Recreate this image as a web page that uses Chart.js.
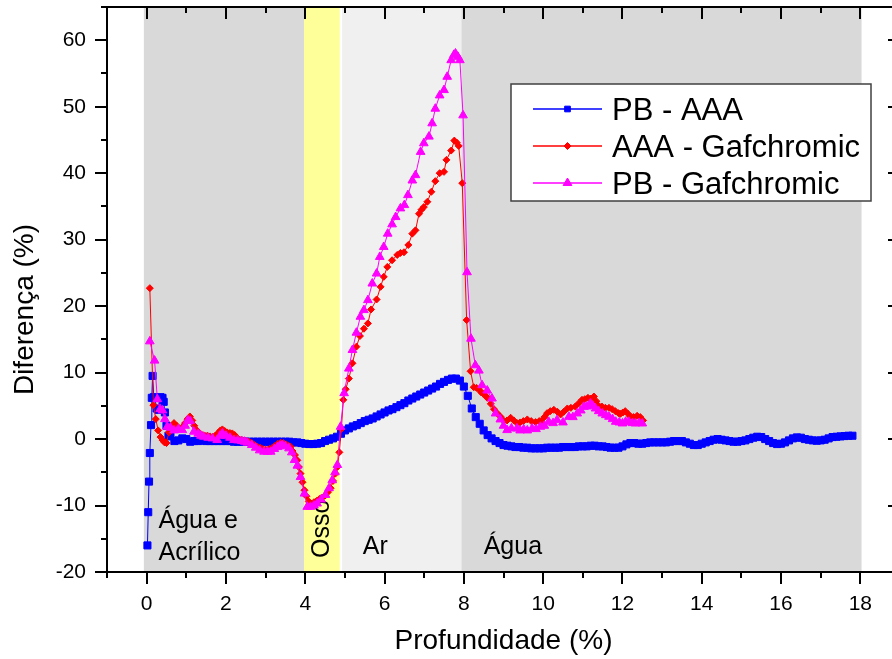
<!DOCTYPE html>
<html><head><meta charset="utf-8">
<script src="https://cdn.jsdelivr.net/npm/chart.js@4/dist/chart.umd.min.js"></script>
<style>html,body{margin:0;padding:0;overflow:hidden;background:#fff}canvas{display:block}</style>
</head><body>
<canvas id="c" width="910" height="659"></canvas>
<script>
// ---------- DATA ----------
const seriesLabels = ['PB - AAA', 'AAA - Gafchromic', 'PB - Gafchromic'];
const xTickLabels = [0, 2, 4, 6, 8, 10, 12, 14, 16, 18];
const yTickLabels = [-20, -10, 0, 10, 20, 30, 40, 50, 60];
const xAxisTitle = 'Profundidade (%)';
const yAxisTitle = 'Diferença (%)';

// material regions (depth)
const regionStart = [-0.07, 3.97, 4.93, 7.94];
const regionEnd   = [3.97, 4.87, 7.94, 18.03];
const regionNames = ['Água e', 'Acrílico', 'Osso', 'Ar', 'Água'];

const pbAaaX = [
0.02,0.04,0.06,0.08,0.11,0.13,0.15,0.18,0.21,0.25,0.3,0.35,0.4,0.43,0.46,0.5,0.55,
0.6,0.7,0.8,0.9,1.0,1.1,1.2,1.3,1.4,1.5,1.6,1.7,1.8,1.9,2.0,2.1,2.2,2.3,2.4,2.5,2.6,2.7,2.8,2.9,
3.0,3.1,3.2,3.3,3.4,3.5,3.6,3.7,3.8,3.9,4.0,4.1,4.2,4.3,4.4,4.5,4.6,4.7,4.8,4.9,
5.0,5.1,5.2,5.3,5.4,5.5,5.6,5.7,5.8,5.9,6.0,6.1,6.2,6.3,6.4,6.5,6.6,6.7,6.8,6.9,
7.0,7.1,7.2,7.3,7.4,7.5,7.6,7.7,7.8,7.9,8.0,8.1,8.2,8.3,8.4,8.5,8.6,8.7,8.8,8.9,
9.0,9.1,9.2,9.3,9.4,9.5,9.6,9.7,9.8,9.9,
10.0,10.1,10.2,10.3,10.4,10.5,10.6,10.7,10.8,10.9,
11.0,11.1,11.2,11.3,11.4,11.5,11.6,11.7,11.8,11.9,
12.0,12.1,12.2,12.3,12.4,12.5,12.6,12.7,12.8,12.9,
13.0,13.1,13.2,13.3,13.4,13.5,13.6,13.7,13.8,13.9,
14.0,14.1,14.2,14.3,14.4,14.5,14.6,14.7,14.8,14.9,
15.0,15.1,15.2,15.3,15.4,15.5,15.6,15.7,15.8,15.9,
16.0,16.1,16.2,16.3,16.4,16.5,16.6,16.7,16.8,16.9,
17.0,17.1,17.2,17.3,17.4,17.5,17.6,17.7,17.8];
const pbAaaY = [
-16,-11,-6.4,-2.1,2.1,6.2,9.5,6.3,6.2,4.6,4.4,6.3,6.2,5.6,4.0,2.0,0.5,
0.4,-0.3,-0.2,0.1,0.0,-0.4,-0.3,-0.3,-0.2,-0.3,-0.3,-0.3,-0.3,-0.3,-0.3,-0.3,-0.4,-0.4,-0.4,-0.4,-0.4,-0.4,-0.4,-0.4,
-0.4,-0.4,-0.4,-0.4,-0.4,-0.4,-0.4,-0.5,-0.5,-0.6,-0.7,-0.75,-0.75,-0.7,-0.6,-0.3,-0.1,0.1,0.35,0.8,
1.3,1.6,1.9,2.1,2.4,2.7,2.9,3.1,3.4,3.7,4.0,4.3,4.5,4.8,5.1,5.4,5.8,6.1,6.4,6.7,
7.0,7.3,7.6,7.9,8.3,8.6,8.9,9.1,9.1,8.8,7.9,6.5,4.6,3.3,2.3,1.3,0.6,0.1,-0.3,-0.6,
-0.9,-1.0,-1.1,-1.2,-1.2,-1.3,-1.3,-1.4,-1.4,-1.4,
-1.4,-1.3,-1.3,-1.3,-1.3,-1.2,-1.2,-1.2,-1.2,-1.1,
-1.1,-1.1,-1.0,-1.0,-1.1,-1.1,-1.2,-1.3,-1.3,-1.3,
-1.1,-0.8,-0.6,-0.6,-0.7,-0.7,-0.6,-0.5,-0.5,-0.5,
-0.5,-0.5,-0.4,-0.3,-0.3,-0.3,-0.5,-0.7,-0.9,-0.9,
-0.7,-0.5,-0.3,-0.1,0.0,-0.1,-0.2,-0.3,-0.4,-0.4,
-0.3,-0.2,0.0,0.2,0.35,0.3,0.0,-0.3,-0.6,-0.75,
-0.7,-0.5,-0.2,0.1,0.25,0.2,0.0,-0.1,-0.2,-0.25,
-0.2,-0.1,0.1,0.3,0.35,0.4,0.45,0.5,0.5];

const aaaGafX = [
0.08,0.17,0.23,0.29,0.35,0.4,0.45,0.5,0.56,0.62,
0.69,0.76,0.83,0.9,0.97,1.03,1.09,1.15,1.2,1.27,
1.33,1.4,1.47,1.53,1.6,1.67,1.73,1.8,1.86,1.91,
1.97,2.03,2.1,2.16,2.22,2.28,2.35,2.42,2.5,2.58,
2.65,2.72,2.79,2.86,2.93,3.0,3.04,3.1,3.17,3.24,
3.31,3.38,3.45,3.52,3.58,3.63,3.68,3.74,3.8,3.84,
3.88,3.93,3.98,4.03,4.09,4.15,4.22,4.29,4.36,4.43,
4.5,4.57,4.64,4.7,4.76,4.81,4.86,4.91,4.96,5.02,
5.1,5.19,5.29,5.38,5.48,5.58,5.66,5.8,5.9,5.98,
6.07,6.19,6.32,6.4,6.49,6.6,6.7,6.78,6.87,6.93,
6.99,7.08,7.18,7.28,7.39,7.5,7.56,7.68,7.76,7.82,
7.87,7.96,8.07,8.17,8.25,8.32,8.38,8.44,8.49,8.55,
8.59,8.68,8.76,8.84,8.92,9.0,9.09,9.18,9.26,9.34,
9.42,9.5,9.6,9.7,9.81,9.9,9.96,10.03,10.1,10.18,
10.27,10.36,10.44,10.52,10.61,10.7,10.81,10.9,10.98,11.05,
11.13,11.2,11.28,11.34,11.4,11.48,11.57,11.66,11.74,11.82,
11.9,11.95,12.01,12.07,12.14,12.2,12.28,12.37,12.45,12.52];
const aaaGafY = [
22.7,5.1,3.0,1.3,0.3,-0.15,-0.5,-0.6,1.0,1.8,
2.4,2.0,1.6,1.8,2.4,3.0,3.4,2.8,2.0,1.3,
0.8,0.6,0.5,0.5,0.4,0.35,0.5,0.9,1.3,1.45,
1.2,1.0,0.9,0.85,0.6,0.2,-0.1,-0.2,-0.3,-0.4,
-0.6,-0.9,-1.15,-1.3,-1.5,-1.6,-1.65,-1.5,-1.3,-1.0,
-0.7,-0.55,-0.6,-0.8,-1.0,-1.15,-1.8,-2.4,-3.2,-4.2,
-5.2,-6.5,-7.7,-8.6,-9.4,-9.7,-9.5,-9.3,-9.0,-8.8,
-8.5,-8.0,-7.4,-6.3,-5.2,-4.2,-2.0,1.5,5.9,7.5,
9.1,11.4,13.9,15.5,16.6,17.4,19.5,21.0,22.9,24.4,
25.9,26.9,27.7,28.0,28.1,29.2,30.9,31.4,33.9,34.5,
34.9,35.7,37.2,38.8,40.0,40.2,42.0,43.4,44.9,44.6,
44.1,38.5,17.9,10.2,7.8,7.7,7.5,7.0,6.8,6.5,
6.2,5.3,4.5,3.9,3.4,2.8,2.8,3.2,2.8,2.4,
2.5,2.7,2.95,2.7,2.55,2.7,2.7,3.3,3.9,4.2,
4.4,4.1,3.7,4.1,4.6,4.7,4.9,5.4,5.9,6.0,
6.2,6.1,6.4,5.7,5.0,4.9,4.7,4.7,4.5,4.2,
3.9,3.8,4.0,4.2,3.8,3.4,3.3,3.5,3.3,2.8];

const pbGafX = [
0.08,0.2,0.27,0.34,0.4,0.46,0.52,0.6,0.69,0.8,
0.9,0.97,1.04,1.1,1.19,1.3,1.37,1.44,1.55,1.66,
1.78,1.85,1.91,2.0,2.1,2.2,2.3,2.4,2.47,2.54,
2.65,2.75,2.85,2.96,3.05,3.13,3.22,3.3,3.36,3.42,
3.5,3.59,3.66,3.73,3.8,3.88,3.98,4.05,4.13,4.22,
4.3,4.4,4.51,4.6,4.68,4.75,4.81,4.89,4.98,5.1,
5.19,5.29,5.39,5.48,5.58,5.69,5.8,5.88,5.98,6.08,
6.19,6.28,6.4,6.5,6.59,6.7,6.78,6.91,6.99,7.12,
7.2,7.28,7.39,7.5,7.58,7.68,7.75,7.79,7.85,7.9,
7.98,8.08,8.18,8.29,8.38,8.46,8.59,8.71,8.8,8.92,
9.0,9.09,9.2,9.34,9.42,9.51,9.6,9.72,9.82,9.93,
10.03,10.14,10.25,10.35,10.5,10.65,10.75,10.86,10.95,11.03,
11.1,11.19,11.25,11.32,11.4,11.49,11.58,11.66,11.75,11.83,
11.92,12.0,12.08,12.16,12.25,12.33,12.42,12.5];
const pbGafY = [
14.7,11.8,6.0,4.5,4.3,3.0,1.85,1.7,1.3,1.5,
1.35,2.0,2.85,2.7,1.1,0.8,0.5,0.35,0.2,0.1,
-0.15,0.5,0.85,0.5,0.2,-0.15,-0.2,-0.3,-0.4,-0.55,
-0.9,-1.3,-1.7,-1.9,-1.9,-1.9,-1.5,-1.2,-1.0,-0.9,
-1.1,-1.4,-2.0,-3.15,-4.0,-5.7,-8.2,-10.2,-10.2,-10.0,
-9.7,-9.1,-8.4,-7.4,-6.2,-5.0,-3.9,1.85,6.9,10.6,
13.4,16.0,18.4,19.4,20.9,23.4,24.9,27.4,28.9,30.9,
32.3,33.4,34.7,35.2,36.7,38.9,39.7,43.2,44.5,45.5,
47.5,49.7,51.7,52.5,54.5,57.0,57.8,58.0,57.5,57.0,
48.7,25.1,15.1,11.1,10.3,8.1,7.3,6.1,3.85,2.95,
2.0,1.35,1.6,1.6,1.3,1.45,1.3,1.6,1.5,1.85,
2.0,2.6,2.4,2.85,2.5,3.35,3.3,3.85,4.3,4.85,
4.9,5.35,5.0,4.6,4.2,3.85,3.6,3.35,3.0,2.6,
2.5,2.35,2.6,2.6,2.4,2.35,2.4,2.35];

// ---------- CHART ----------
const FONT = "'Liberation Sans', Arial, Helvetica, sans-serif";
const toPts = (xs, ys) => xs.map((x, i) => ({x: x, y: ys[i]}));
const seriesColors = ['#0000ff', '#ff0000', '#ff00ff'];
const seriesStyles = ['rect', 'rectRot', 'triangle'];

function drawMarker(ctx, style, x, y, r) {
  ctx.beginPath();
  if (style === 'rect') {
    const s = r * Math.SQRT1_2;
    ctx.rect(x - s, y - s, 2 * s, 2 * s);
  } else if (style === 'rectRot') {
    ctx.moveTo(x - r, y); ctx.lineTo(x, y - r); ctx.lineTo(x + r, y); ctx.lineTo(x, y + r); ctx.closePath();
  } else {
    const h = r * Math.sqrt(3) / 2;
    ctx.moveTo(x, y - r); ctx.lineTo(x + h, y + r / 2); ctx.lineTo(x - h, y + r / 2); ctx.closePath();
  }
  ctx.fill(); ctx.stroke();
}

const bandsPlugin = {
  id: 'bands',
  beforeDatasetsDraw(chart) {
    const {ctx, chartArea: a, scales: {x, y}} = chart;
    const cols = ['#d9d9d9', '#ffff99', '#f0f0f0', '#d9d9d9'];
    ctx.save();
    regionStart.forEach((s, i) => {
      const x0 = x.getPixelForValue(s), x1 = x.getPixelForValue(regionEnd[i]);
      ctx.fillStyle = cols[i];
      ctx.fillRect(x0, a.top, x1 - x0, a.bottom - a.top);
    });
    ctx.fillStyle = '#000';
    ctx.font = '25px ' + FONT;
    ctx.textAlign = 'left';
    ctx.textBaseline = 'alphabetic';
    ctx.fillText(regionNames[0], x.getPixelForValue(0.30), y.getPixelForValue(-13.4));
    ctx.fillText(regionNames[1], x.getPixelForValue(0.30), y.getPixelForValue(-18.2));
    ctx.fillText(regionNames[3], x.getPixelForValue(5.45), y.getPixelForValue(-17.3));
    ctx.fillText(regionNames[4], x.getPixelForValue(8.5), y.getPixelForValue(-17.3));
    ctx.save();
    ctx.translate(x.getPixelForValue(4.59), y.getPixelForValue(-17.9));
    ctx.rotate(-Math.PI / 2);
    ctx.fillText(regionNames[2], 0, 0);
    ctx.restore();
    ctx.restore();
  }
};

const framePlugin = {
  id: 'frame',
  afterLayout(chart) {
    const s = chart.scales.y;
    if (!s._shifted) {
      const orig = s.drawTitle.bind(s);
      s.drawTitle = function () { const c = this.ctx; c.save(); c.translate(0, 20); orig(); c.restore(); };
      s._shifted = true;
    }
  },
  afterDraw(chart) {
    const {ctx, chartArea: a, scales: {x, y}} = chart;
    ctx.save();
    ctx.strokeStyle = '#000';
    ctx.lineWidth = 2;
    const line = (x0, y0, x1, y1) => { ctx.beginPath(); ctx.moveTo(x0, y0); ctx.lineTo(x1, y1); ctx.stroke(); };
    x.ticks.forEach(t => {
      const px = Math.round(x.getPixelForValue(t.value));
      const L = (t.value % 2 === 0) ? 12 : 6;
      line(px, a.bottom, px, a.bottom + L);
      line(px, a.top, px, a.top + L);
    });
    y.ticks.forEach(t => {
      const py = Math.round(y.getPixelForValue(t.value));
      const L = (t.value % 10 === 0) ? 12 : 6;
      line(a.left - L, py, a.left, py);
      line(a.right - L, py, a.right, py);
    });
    ctx.strokeRect(a.left, a.top, a.right - a.left, a.bottom - a.top);

    // legend
    const lx = 511, ly = 84, lw = 360, lh = 117;
    ctx.fillStyle = '#fff';
    ctx.fillRect(lx, ly, lw, lh);
    ctx.strokeStyle = '#404040';
    ctx.lineWidth = 1.5;
    ctx.strokeRect(lx, ly, lw, lh);
    const radii = [4, 3.5, 5];
    seriesLabels.forEach((lab, i) => {
      const cy = 109 + 37 * i;
      ctx.strokeStyle = seriesColors[i];
      ctx.fillStyle = seriesColors[i];
      ctx.lineWidth = 1.5;
      line(533, cy, 602, cy);
      ctx.lineWidth = 1;
      drawMarker(ctx, seriesStyles[i], 567.5, cy, radii[i]);
      ctx.fillStyle = '#000';
      ctx.font = '31px ' + FONT;
      ctx.textAlign = 'left';
      ctx.textBaseline = 'alphabetic';
      ctx.fillText(lab, 612, cy + 11);
    });
    ctx.restore();
  }
};

const mk = (i, xs, ys, r, order) => ({
  label: seriesLabels[i],
  data: toPts(xs, ys),
  borderColor: seriesColors[i],
  backgroundColor: seriesColors[i],
  borderWidth: 1,
  pointStyle: seriesStyles[i],
  pointRadius: r,
  pointBorderWidth: 1,
  pointBackgroundColor: seriesColors[i],
  pointBorderColor: seriesColors[i],
  tension: 0,
  order: order
});

new Chart(document.getElementById('c'), {
  type: 'line',
  data: {
    datasets: [
      mk(0, pbAaaX, pbAaaY, 5, 3),
      mk(1, aaaGafX, aaaGafY, 3.5, 2),
      mk(2, pbGafX, pbGafY, 5, 1)
    ]
  },
  options: {
    responsive: false,
    animation: false,
    events: [],
    layout: {padding: {left: 0, top: 7, right: 10, bottom: 0}},
    plugins: {legend: {display: false}, tooltip: {enabled: false}},
    scales: {
      x: {
        type: 'linear', min: -1, max: 19,
        grid: {display: false, drawTicks: false},
        border: {display: false},
        ticks: {
          stepSize: 1, autoSkip: false, maxRotation: 0, padding: 20,
          color: '#000', font: {family: FONT, size: 21},
          callback: v => xTickLabels.includes(v) ? String(v) : ''
        },
        title: {display: true, text: xAxisTitle, color: '#000',
          font: {family: FONT, size: 28}, padding: {top: 0, bottom: 1}},
        afterFit: s => { s.height = 87; s.paddingLeft = 0; s.paddingRight = 0; }
      },
      y: {
        type: 'linear', min: -20, max: 65,
        grid: {display: false, drawTicks: false},
        border: {display: false},
        ticks: {
          stepSize: 5, autoSkip: false, padding: 21,
          color: '#000', font: {family: FONT, size: 21},
          callback: v => yTickLabels.includes(v) ? String(v) : ''
        },
        title: {display: true, text: yAxisTitle, color: '#000',
          font: {family: FONT, size: 28}, padding: {top: 8, bottom: 0}},
        afterFit: s => { s.width = 107; s.paddingTop = 0; s.paddingBottom = 0; }
      }
    }
  },
  plugins: [bandsPlugin, framePlugin]
});
</script>
</body></html>
